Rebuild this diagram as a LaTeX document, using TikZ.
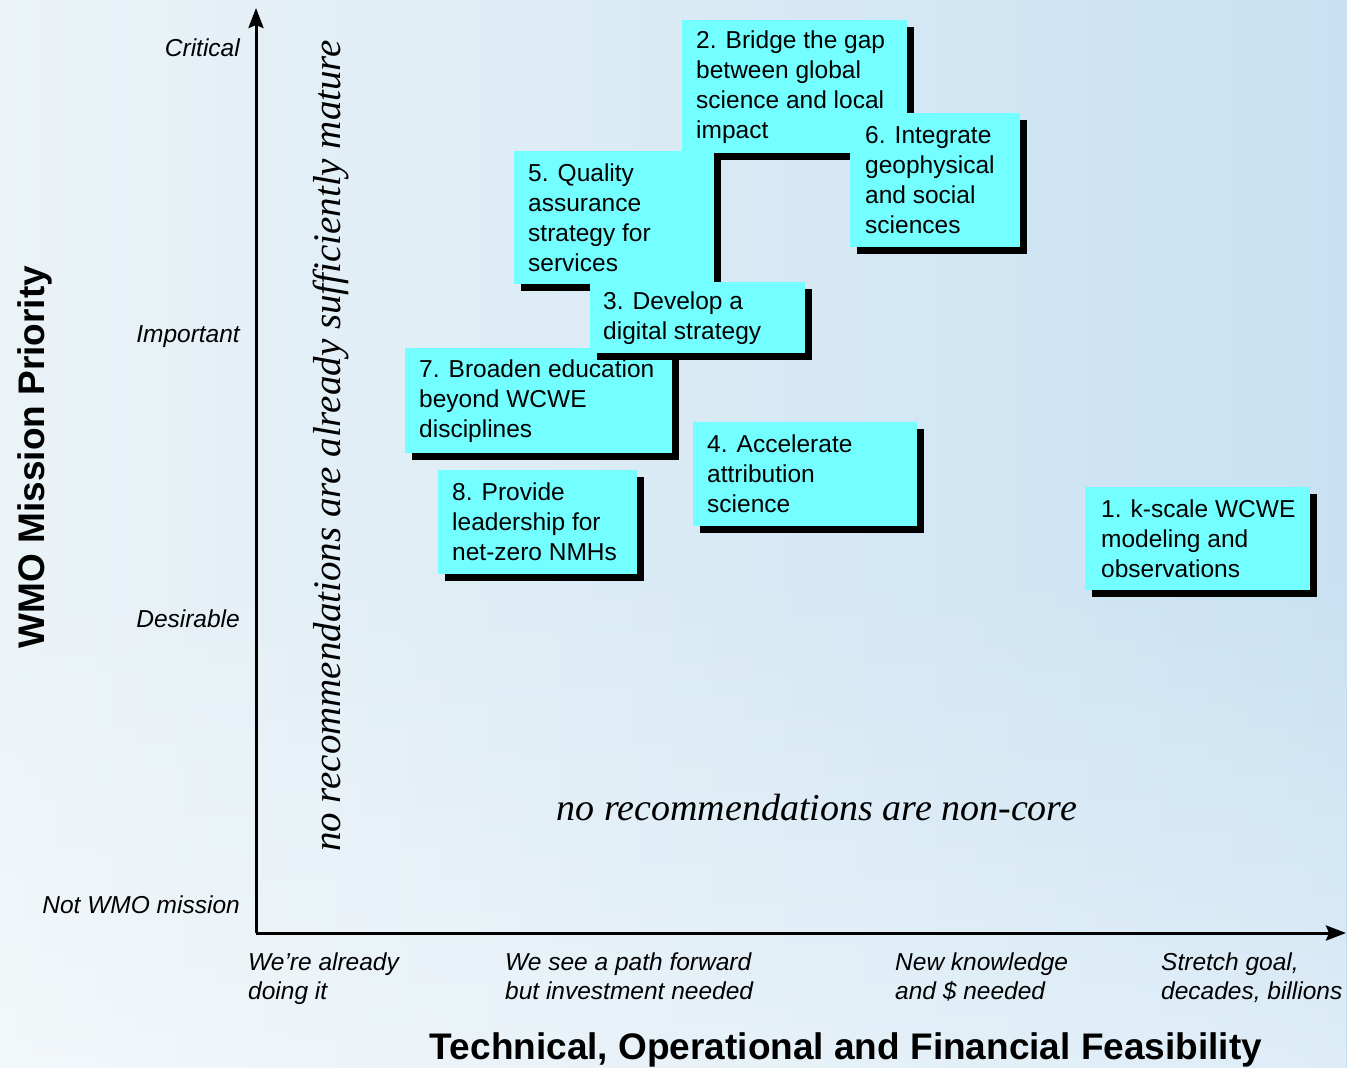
\documentclass[tikz,border=0pt]{standalone}
\usepackage{fontspec}
\setmainfont{Liberation Sans}
\newfontfamily\seriffont{Liberation Serif}
\usetikzlibrary{shadows,arrows.meta,fadings}
\definecolor{boxcyan}{RGB}{115,255,255}
\definecolor{bgleft}{RGB}{235,243,247}
\definecolor{bgright}{RGB}{200,225,242}
\begin{document}
\begin{tikzpicture}[x=1pt,y=-1pt,
  box/.style={draw=none, fill=boxcyan, anchor=north west, inner sep=0pt,
    drop shadow={shadow xshift=7pt, shadow yshift=-7pt, fill=black, opacity=1}},
  btext/.style={anchor=west, align=left, inner sep=0pt, font=\fontsize{24.5}{30}\selectfont},
  ylab/.style={anchor=base east, inner sep=0pt, font=\fontsize{24.5}{29}\selectfont\itshape},
  xlab/.style={anchor=north west, align=left, inner sep=0pt, font=\fontsize{24.5}{29}\selectfont\itshape},
  note/.style={inner sep=0pt, font=\fontsize{38}{40}\selectfont\seriffont\itshape},
  axisline/.style={line width=3pt, -{Stealth[length=20pt,width=15pt,inset=3pt]}}
]
% background
\shade[left color=bgleft, right color=bgright] (0,0) rectangle (1347,1068);
\fill[white, opacity=0.4, path fading=north] (0,560) rectangle (1347,1068);
\useasboundingbox (0,0) rectangle (1347,1068);

% axes
\coordinate (O) at (256,933);
\coordinate (ytop) at (256,8);
\coordinate (xend) at (1346,933);
\draw[axisline] (O) -- (ytop);
\draw[axisline] (O) -- (xend);

% axis titles
\node[rotate=90, inner sep=0pt, font=\fontsize{37}{40}\selectfont\bfseries] (ytitle) at (35,457) {WMO Mission Priority};
\node[anchor=base, inner sep=0pt, font=\fontsize{37}{40}\selectfont\bfseries] (xtitle) at (846,1059) {Technical, Operational and Financial Feasibility};

% y labels
\node[ylab] (yl1) at (240,56) {Critical};
\node[ylab] (yl2) at (240,342) {Important};
\node[ylab] (yl3) at (240,627) {Desirable};
\node[ylab] (yl4) at (240,913) {Not WMO mission};

% x labels
\node[xlab] (xl1) at (248,953) {We’re already\\doing it};
\node[xlab] (xl2) at (505,953) {We see a path forward\\but investment needed};
\node[xlab] (xl3) at (895,953) {New knowledge\\and \$ needed};
\node[xlab] (xl4) at (1161,953) {Stretch goal,\\decades, billions};

% notes
\node[note, rotate=90, font=\fontsize{39}{40}\selectfont\seriffont\itshape] (n1) at (331,446) {no recommendations are already sufficiently mature};
\node[note] (n2) at (817,808) {no recommendations are non-core};

% boxes
\node[box, minimum width=225pt, minimum height=133pt] (b2) at (682,20) {};
\node[btext] (t2) at ([xshift=14pt]b2.west) {2. Bridge the gap\\between global\\science and local\\impact};

\node[box, minimum width=170pt, minimum height=134pt] (b6) at (850,113) {};
\node[btext] (t6) at ([xshift=15pt]b6.west) {6. Integrate\\geophysical\\and social\\sciences};

\node[box, minimum width=200pt, minimum height=133pt] (b5) at (514,151) {};
\node[btext] (t5) at ([xshift=14pt]b5.west) {5. Quality\\assurance\\strategy for\\services};

\node[box, minimum width=267pt, minimum height=105pt] (b7) at (405,348) {};
\node[btext] (t7) at ([xshift=14pt]b7.west) {7. Broaden education\\beyond WCWE\\disciplines};

\node[box, minimum width=215pt, minimum height=71pt] (b3) at (590,282) {};
\node[btext] (t3) at ([xshift=13pt]b3.west) {3. Develop a\\digital strategy};

\node[box, minimum width=224pt, minimum height=104pt] (b4) at (693,422) {};
\node[btext] (t4) at ([xshift=14pt]b4.west) {4. Accelerate\\attribution\\science};

\node[box, minimum width=199pt, minimum height=104pt] (b8) at (438,470) {};
\node[btext] (t8) at ([xshift=14pt]b8.west) {8. Provide\\leadership for\\net-zero NMHs};

\node[box, minimum width=225pt, minimum height=103pt] (b1) at (1085,487) {};
\node[btext] (t1) at ([xshift=16pt]b1.west) {1. k-scale WCWE\\modeling and\\observations};
\end{tikzpicture}
\end{document}
